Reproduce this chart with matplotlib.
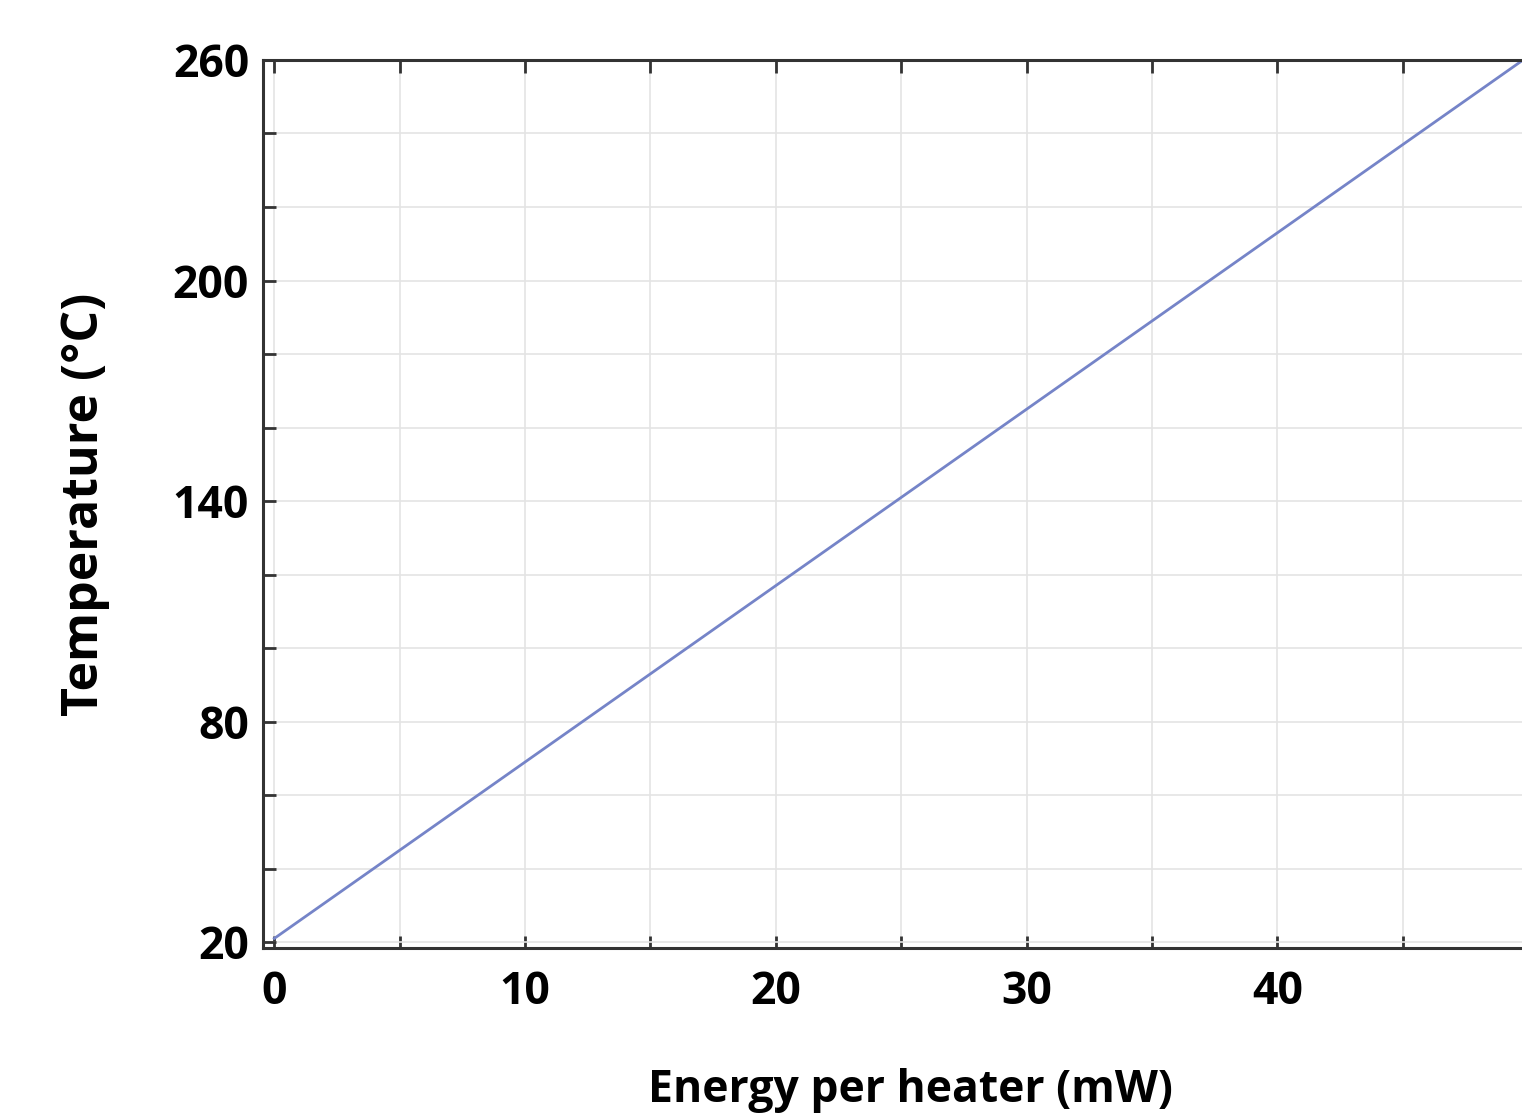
import matplotlib.pyplot as plt
import numpy as np

# data
energy = [0, 10, 20, 30, 40, 50]
temperature = [21, 69, 117, 165, 213, 261]

x_major = [0, 10, 20, 30, 40]
x_minor = [5, 15, 25, 35, 45]
y_major = [20, 80, 140, 200, 260]
y_minor = [40, 60, 100, 120, 160, 180, 220, 240]

plt.rcParams['font.family'] = ['Open Sans', 'DejaVu Sans']

fig = plt.figure(figsize=(15.22, 11.17), dpi=100)
ax = fig.add_axes([0.1728, 0.1513, 0.8272, 0.795])

ax.plot(energy, temperature, color='#7584c8', lw=2)

ax.set_xlim(-0.45, 49.75)
ax.set_ylim(18.4, 260)

ax.set_xticks(x_major)
ax.set_xticks(x_minor, minor=True)
ax.set_yticks(y_major)
ax.set_yticks(y_minor, minor=True)
ax.set_xticklabels([str(v) for v in x_major], fontsize=32, fontweight='bold')
ax.set_yticklabels([str(v) for v in y_major], fontsize=32, fontweight='bold')

ax.grid(True, which='both', color='#e4e4e4', lw=1.2)
ax.set_axisbelow(True)

ax.tick_params(which='both', direction='in', top=True, right=False,
               length=9, width=2, color='#333333')
ax.tick_params(axis='x', which='major', pad=16)
ax.tick_params(axis='y', which='major', pad=10)

for s in ['left', 'top', 'bottom']:
    ax.spines[s].set_linewidth(2.2)
    ax.spines[s].set_color('#333333')
ax.spines['right'].set_visible(False)

ax.set_xlabel('Energy per heater (mW)', fontsize=32, fontweight='bold')
ax.set_ylabel('Temperature (°C)', fontsize=36, fontweight='bold', labelpad=45)
ax.xaxis.set_label_coords(0.514, -0.135)

fig.savefig('out.png', dpi=100)
